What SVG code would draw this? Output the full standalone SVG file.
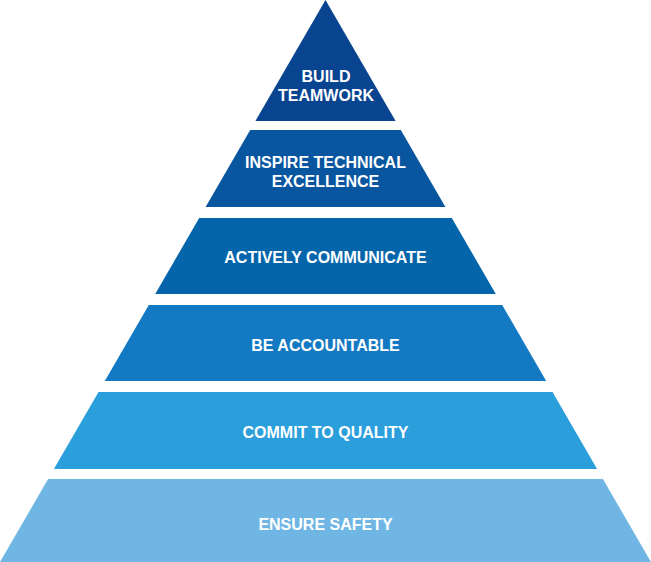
<svg xmlns="http://www.w3.org/2000/svg" width="651" height="562" viewBox="0 0 651 562">
<style>
.lbl{font-family:"Liberation Sans",Arial,sans-serif;font-weight:bold;font-size:16px;fill:#ffffff;text-anchor:middle}
</style>
<rect width="651" height="562" fill="#ffffff"/>
<g id="layer1"><polygon points="325.5,0 395.6,121 255.4,121" fill="#08448f"/>
<text class="lbl" x="326" y="82">BUILD</text><text class="lbl" x="326" y="101">TEAMWORK</text></g>
<g id="layer2"><polygon points="250.2,130 400.8,130 445.4,207 205.6,207" fill="#07569f"/>
<text class="lbl" x="325.5" y="168">INSPIRE TECHNICAL</text><text class="lbl" x="325.5" y="187">EXCELLENCE</text></g>
<g id="layer3"><polygon points="199.2,218 451.8,218 495.8,294 155.2,294" fill="#0465ab"/>
<text class="lbl" x="325.5" y="263">ACTIVELY COMMUNICATE</text></g>
<g id="layer4"><polygon points="148.8,305 502.2,305 546.2,381 104.8,381" fill="#1479c3"/>
<text class="lbl" x="325.5" y="351">BE ACCOUNTABLE</text></g>
<g id="layer5"><polygon points="98.5,392 552.5,392 597.1,469 53.9,469" fill="#2a9fdc"/>
<text class="lbl" x="325.5" y="438">COMMIT TO QUALITY</text></g>
<g id="layer6"><polygon points="48.1,479 602.9,479 651,562 0,562" fill="#70b6e4"/>
<text class="lbl" x="325.5" y="530">ENSURE SAFETY</text></g>
<g id="connectors"></g>
</svg>
